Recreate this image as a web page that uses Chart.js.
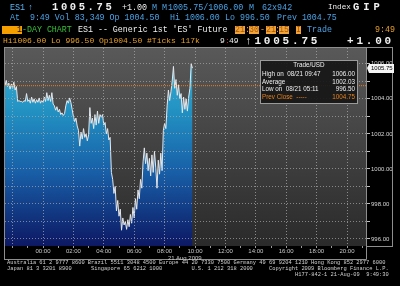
<!DOCTYPE html>
<html>
<head>
<meta charset="utf-8">
<script src="https://cdn.jsdelivr.net/npm/chart.js@4.4.0/dist/chart.umd.min.js"></script>
<style>
html, body { margin: 0; padding: 0; background: #000; }
#wrap { position: relative; width: 400px; height: 286px; overflow: hidden; background: #000; }
#c { position: absolute; left: 0; top: 0; }
.t { position: absolute; white-space: pre; line-height: 1; }
#legendBox { position: absolute; left: 260px; top: 60px; width: 96px; height: 42px;
  background: rgba(22,22,22,0.92); border: 1px solid #9a9a9a; }
</style>
</head>
<body>
<div id="wrap"><canvas id="c" width="400" height="286"></canvas></div>
<script>
// ES1 intraday, 21 Aug 2009, 5-minute samples from 21:30 (prev day)
const startMin = -150;   // 21:30 previous day
const stepMin = 5;
const prices = [
  1004.75, 1005.05, 1004.70, 1004.90, 1004.55, 1004.85, 1004.60, 1004.95, 1004.50, 1004.70,
  1003.85, 1003.90, 1003.85, 1003.85, 1003.80, 1003.90, 1003.85, 1004.30, 1003.85, 1003.95,
  1003.75, 1004.10, 1003.80, 1004.00, 1003.75, 1003.95, 1003.80, 1004.05, 1003.75, 1003.90,
  1003.80, 1004.10, 1003.85, 1004.35, 1003.90, 1004.20, 1003.85, 1004.35, 1003.70, 1003.60,
  1003.35, 1003.55, 1003.25, 1003.40, 1003.10, 1003.20, 1003.05, 1003.15, 1003.60, 1003.90,
  1003.75, 1004.05, 1003.80, 1003.40, 1003.00, 1002.70, 1002.90, 1002.45, 1002.20, 1001.30,
  1002.10, 1001.70, 1002.30, 1001.80, 1002.00, 1001.60, 1001.95, 1003.50, 1002.60, 1002.90,
  1002.30, 1003.10, 1002.50, 1003.30, 1002.60, 1003.10, 1002.95, 1003.10, 1002.50, 1002.65,
  1002.00, 1002.30, 1001.65, 1001.80, 999.80, 999.40, 998.60, 999.00, 997.60, 998.20,
  997.30, 997.70, 996.50, 997.20, 996.80, 997.00, 996.55, 997.10, 996.70, 997.40,
  996.90, 997.80, 997.20, 998.30, 997.70, 998.80, 998.30, 999.40, 998.90, 1000.40,
  1001.20, 1000.30, 1000.90, 999.90, 1000.60, 999.60, 1000.80, 999.80, 1001.00, 1000.10,
  998.90, 1000.50, 999.70, 1000.90, 999.90, 1002.20, 1002.60, 1002.30, 1003.60, 1004.50,
  1003.90, 1004.40, 1005.00, 1005.85, 1004.60, 1005.10, 1004.20, 1004.80, 1004.00, 1004.30,
  1003.20, 1004.10, 1003.40, 1004.00, 1003.30, 1004.10, 1004.60, 1006.00, 1005.75
];
const prevClose = 1004.75;
const lastPrice = 1005.75;
const sessionStart = -150, sessionEnd = 1275;  // 21:30 -> 21:15
const yMin = 995.6, yMax = 1006.9;

const points = prices.map((p, i) => ({ x: startMin + i * stepMin, y: p }));

const wrap = document.getElementById('wrap');
function put(x, base, size, color, text, font, extra) {
  const s = document.createElement('span');
  s.className = 't';
  s.textContent = text;
  const mono = font !== 'sans';
  s.style.fontFamily = mono ? "'Liberation Mono', monospace" : "'Liberation Sans', Arial, sans-serif";
  s.style.fontSize = size + 'px';
  s.style.top = (base - (mono ? 0.767 : 0.847) * size) + 'px';
  if (x < 0) s.style.right = (-x) + 'px'; else s.style.left = x + 'px';
  s.style.color = color;
  if (extra) Object.assign(s.style, extra);
  wrap.appendChild(s);
  return s;
}

const blue = '#4aa3e6', orange = '#e8a028', white = '#f0f0f0';
const box = { background: '#f2a43a' };
// header line 1
put(10, 10, 8.4, '#5ab4f2', 'ES1');
put(28, 10, 8.4, '#5ab4f2', '\u2191');
put(52, 10.5, 10.5, white, '1005.75', null, { fontWeight: 'bold', letterSpacing: '2.6px' });
put(122, 10, 8.4, white, '+1.00');
put(152, 10, 8.4, blue, 'M');
put(162, 10, 8.4, blue, 'M');
put(168, 10, 8.4, blue, '1005.75/1006.00');
put(249, 10, 8.4, blue, 'M');
put(262, 10, 8.4, blue, '62x942');
put(328, 10, 7.6, white, 'Index');
put(353, 10.5, 10.5, white, 'GIP', null, { fontWeight: 'bold', letterSpacing: '4px' });
// header line 2
put(10, 20, 8.3, blue, 'At  9:49 Vol 83,349 Op 1004.50');
put(170, 20, 8.3, blue, 'Hi 1006.00');
put(225, 20, 8.3, blue, 'Lo 996.50');
put(277, 20, 8.3, blue, 'Prev 1004.75');
// header line 3
put(2, 32.5, 8.3, '#1a1000', '   1', null, { background: '#f5a000' });
put(22, 32.5, 8.3, '#38c038', '-DAY CHART');
put(78, 32.5, 8.3, white, "ES1 -- Generic 1st 'ES' Future");
put(235, 32.5, 8.3, '#a85800', '21', null, box);
put(245, 32.5, 8.3, orange, ':');
put(249, 32.5, 8.3, '#a85800', '30', null, box);
put(260, 32.5, 8.3, orange, '-');
put(266, 32.5, 8.3, '#a85800', '21', null, box);
put(275, 32.5, 8.3, orange, ':');
put(279, 32.5, 8.3, '#a85800', '15', null, box);
put(296, 32.5, 8.3, '#a85800', 'I', null, box);
put(307, 32.5, 8.3, blue, 'Trade');
put(375, 32.5, 8.3, orange, '9:49');
// header line 4
put(3, 43, 8.0, orange, 'Hi1006.00 Lo 996.50 Op1004.50 #Ticks 117k');
put(220, 43, 8.0, white, '9');
put(225, 43, 8.0, '#e03030', ':');
put(229, 43, 8.0, white, '49');
put(245, 44, 11, white, '\u21911005.75', null, { fontWeight: 'bold', letterSpacing: '2.8px' });
put(347, 44, 11, white, '+1.00', null, { fontWeight: 'bold', letterSpacing: '2.8px' });
// footer
const foot = '#d0d0d0';
put(7, 265, 5.4, foot, 'Australia 61 2 9777 8600 Brazil 5511 3048 4500 Europe 44 20 7330 7500 Germany 49 69 9204 1210 Hong Kong 852 2977 6000');
put(7, 271, 5.4, foot, 'Japan 81 3 3201 8900      Singapore 65 6212 1000         U.S. 1 212 318 2000     Copyright 2009 Bloomberg Finance L.P.');
put(295, 277, 5.4, foot, 'H177-842-1 21-Aug-09  9:49:30');
put(168, 260, 6, '#c8c8c8', '21 Aug 2009', 'sans');

// legend box
const lb = document.createElement('div');
lb.id = 'legendBox';
wrap.appendChild(lb);
put(280, 67, 6.3, white, 'Trade/USD', 'sans', { left: '260px', width: '98px', textAlign: 'center' });
put(262, 76.5, 6.3, white, 'High on  08/21 09:47', 'sans');
put(-45, 76.5, 6.3, white, '1006.00', 'sans');
put(262, 84, 6.3, white, 'Average', 'sans');
put(-45, 84, 6.3, white, '1002.03', 'sans');
put(262, 91.3, 6.3, white, 'Low on  08/21 05:11', 'sans');
put(-45, 91.3, 6.3, white, '996.50', 'sans');
put(262, 99, 6.3, '#e8821e', 'Prev Close  -----', 'sans');
put(-45, 99, 6.3, '#e8821e', '1004.75', 'sans');

function hhmm(m) {
  const h = ((Math.round(m / 60) % 24) + 24) % 24;
  return String(h).padStart(2, '0') + ':00';
}

const bbg = {
  id: 'bbg',
  beforeDraw(chart) {
    const { ctx, chartArea: a } = chart;
    ctx.save();
    ctx.fillStyle = '#000';
    ctx.fillRect(0, 0, chart.width, chart.height);
    const g = ctx.createLinearGradient(0, a.top, 0, a.bottom);
    g.addColorStop(0, '#595959');
    g.addColorStop(1, '#2a2a2a');
    ctx.fillStyle = g;
    ctx.fillRect(a.left, a.top, a.right - a.left, a.bottom - a.top);
    ctx.restore();
  },
  afterDraw(chart) {
    const { ctx, chartArea: a } = chart;
    const y = chart.scales.y;
    ctx.save();
    ctx.strokeStyle = '#8e8e8e';
    ctx.lineWidth = 1;
    ctx.beginPath();
    ctx.moveTo(4, 47.5); ctx.lineTo(392.5, 47.5);
    ctx.moveTo(4.5, 47); ctx.lineTo(4.5, 259.5);
    ctx.moveTo(4, 259.5); ctx.lineTo(366.5, 259.5);
    ctx.moveTo(366.5, 47); ctx.lineTo(366.5, 259.5);
    ctx.moveTo(392.5, 47); ctx.lineTo(392.5, 246.5);
    ctx.moveTo(366, 246.5); ctx.lineTo(393, 246.5);
    ctx.stroke();
    // last price tag
    const py = Math.round(y.getPixelForValue(lastPrice));
    ctx.fillStyle = '#f4f4f4';
    ctx.beginPath();
    ctx.moveTo(a.right + 1, py);
    ctx.lineTo(a.right + 3, py - 4);
    ctx.lineTo(a.right + 28, py - 4);
    ctx.lineTo(a.right + 28, py + 5);
    ctx.lineTo(a.right + 3, py + 5);
    ctx.closePath();
    ctx.fill();
    ctx.fillStyle = '#000';
    ctx.font = "6px 'Liberation Sans', Arial, sans-serif";
    ctx.textBaseline = 'middle';
    ctx.fillText(lastPrice.toFixed(2), a.right + 5, py + 0.5);
    ctx.restore();
  }
};

Chart.defaults.font.family = "'Liberation Sans', Arial, sans-serif";

new Chart(document.getElementById('c'), {
  type: 'line',
  data: {
    datasets: [{
      data: points,
      borderColor: '#e4e8ec',
      borderWidth: 1,
      pointRadius: 0,
      tension: 0,
      fill: 'start',
      order: 1,
      backgroundColor: (c) => {
        const a = c.chart.chartArea;
        if (!a) return '#1f7ab8';
        const g = c.chart.ctx.createLinearGradient(0, a.top, 0, a.bottom);
        g.addColorStop(0, '#3cb6d6');
        g.addColorStop(0.3, '#2394c4');
        g.addColorStop(0.62, '#1860a8');
        g.addColorStop(1, '#0d1864');
        return g;
      }
    }, {
      data: [{ x: sessionStart, y: prevClose }, { x: sessionEnd, y: prevClose }],
      borderColor: '#ec7a1c',
      borderWidth: 1,
      borderDash: [1, 1],
      pointRadius: 0,
      fill: false,
      order: 0
    }]
  },
  options: {
    responsive: false,
    animation: false,
    layout: { padding: { left: 5, top: 48, right: 4, bottom: 0 } },
    plugins: { legend: { display: false }, tooltip: { enabled: false } },
    scales: {
      x: {
        type: 'linear',
        min: sessionStart,
        max: sessionEnd,
        afterBuildTicks: (s) => {
          const t = [];
          for (let m = -120; m <= 1260; m += 60) t.push({ value: m });
          s.ticks = t;
        },
        afterFit: (s) => { s.height = 40; s.paddingLeft = 0; s.paddingRight = 0; },
        grid: {
          z: 1,
          color: (c) => (c.tick && c.tick.value % 120 === 0) ? 'rgba(170,170,170,0.75)' : 'rgba(0,0,0,0)',
          tickColor: '#9a9a9a',
          tickLength: 2,
          lineWidth: 1
        },
        border: { display: false, dash: [1, 2] },
        ticks: {
          autoSkip: false,
          maxRotation: 0,
          padding: 0,
          color: '#c8c8c8',
          font: { size: 6 },
          callback: (v) => (v >= 0 && v % 120 === 0) ? hhmm(v) : ''
        }
      },
      y: {
        position: 'right',
        min: yMin,
        max: yMax,
        afterBuildTicks: (s) => {
          const t = [];
          for (let v = 996; v <= 1006; v += 1) t.push({ value: v });
          s.ticks = t;
        },
        afterFit: (s) => { s.width = 30; s.paddingTop = 0; s.paddingBottom = 0; },
        grid: {
          z: 1,
          color: 'rgba(170,170,170,0.7)',
          tickColor: '#c0c0c0',
          tickLength: 4,
          lineWidth: 1
        },
        border: { display: false, dash: [1, 2] },
        ticks: {
          padding: 1,
          color: '#d4d4d4',
          font: { size: 6 },
          callback: (v) => (v % 2 === 0) ? v.toFixed(2) : ''
        }
      }
    }
  },
  plugins: [bbg]
});
</script>
</body>
</html>
